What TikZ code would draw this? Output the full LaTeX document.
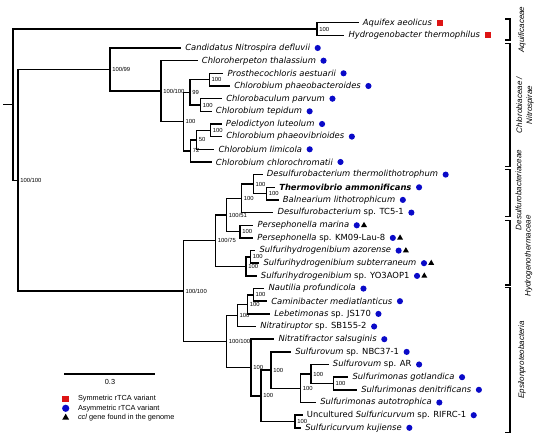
\documentclass[tikz,border=0pt]{standalone}
\usepackage{fontspec}
\setsansfont{DejaVu Sans}
\newfontfamily\arialfont{Liberation Sans}
\usetikzlibrary{positioning}
\usetikzlibrary{shapes.geometric}
\definecolor{symred}{RGB}{221,20,20}
\definecolor{asymblue}{RGB}{10,10,200}

\tikzset{
  branch/.style={line width=1.1pt},
  bracket/.style={line width=0.8pt},
  taxon/.style={anchor=west, inner xsep=3pt, inner ysep=1pt, font=\sffamily\itshape\fontsize{6.3}{7}\selectfont},
  boot/.style={anchor=west, inner xsep=1.5pt, inner ysep=0.5pt, font=\arialfont\fontsize{4.4}{5}\selectfont},
  clade/.style={rotate=90, align=center, font=\arialfont\itshape\fontsize{6}{7.5}\selectfont},
  legtext/.style={anchor=west, inner sep=1pt, font=\arialfont\fontsize{5.5}{6.5}\selectfont},
  symm/.style={rectangle, fill=symred, inner sep=0pt, minimum size=4.5pt},
  asymm/.style={circle, fill=asymblue, inner sep=0pt, minimum size=4.6pt},
  cclgene/.style={regular polygon, regular polygon sides=3, fill=black, inner sep=0pt, minimum size=5.2pt},
}

\begin{document}
\begin{tikzpicture}[x=0.75pt,y=0.75pt,yscale=-1,xscale=1]
\useasboundingbox (0,0) rectangle (538,441);

%Internal nodes of the tree
\coordinate (stub) at (3,104.7);
\coordinate (root) at (13,104.7);
\coordinate (aqf) at (317,29.05);
\coordinate (nb) at (18,180.35);
\coordinate (cn) at (110,69.6);
\coordinate (cc) at (161,91.15);
\coordinate (cd) at (183.3,121.6);
\coordinate (n99) at (190,92.3);
\coordinate (pro) at (209.3,79.65);
\coordinate (cba) at (200.7,105);
\coordinate (n72) at (190.7,150.9);
\coordinate (n50) at (196.7,139.8);
\coordinate (pel) at (210.7,130.3);
\coordinate (dh) at (183.3,291.1);
\coordinate (n75) at (215.7,240.7);
\coordinate (n51) at (226.7,215);
\coordinate (dtc) at (241.7,198.35);
\coordinate (dth) at (253.3,184.1);
\coordinate (thb) at (266.7,193.6);
\coordinate (per) at (240,231.6);
\coordinate (syo) at (246,266.4);
\coordinate (saz) at (250.7,256.9);
\coordinate (eps) at (226.7,341.5);
\coordinate (nir) at (237.3,315.45);
\coordinate (leb) at (247.7,304.4);
\coordinate (nau) at (253.3,294.9);
\coordinate (sfr) at (251,367.5);
\coordinate (shh) at (261,395.8);
\coordinate (snb) at (271,370.1);
\coordinate (sau) at (300.7,388.25);
\coordinate (sar) at (311,374);
\coordinate (slg) at (333.3,383.5);
\coordinate (scv) at (295,421.5);

%Taxa
\node[taxon] (t-aae) at (358.7,22.7) {Aquifex aeolicus};
\node[taxon] (t-hth) at (344.3,35.4) {Hydrogenobacter thermophilus};
\node[taxon] (t-nde) at (181,48.0) {Candidatus Nitrospira defluvii};
\node[taxon] (t-cth) at (197.7,60.7) {Chloroherpeton thalassium};
\node[taxon] (t-pae) at (223.3,73.3) {Prosthecochloris aestuarii};
\node[taxon] (t-cpb) at (230,86.0) {Chlorobium phaeobacteroides};
\node[taxon] (t-cpa) at (222,98.7) {Chlorobaculum parvum};
\node[taxon] (t-cte) at (211.7,111.3) {Chlorobium tepidum};
\node[taxon] (t-plu) at (221.7,124.0) {Pelodictyon luteolum};
\node[taxon] (t-cpv) at (222,136.6) {Chlorobium phaeovibrioides};
\node[taxon] (t-cli) at (214.3,149.3) {Chlorobium limicola};
\node[taxon] (t-cch) at (211.7,162.0) {Chlorobium chlorochromatii};
\node[taxon] (t-dth) at (262.7,174.6) {Desulfurobacterium thermolithotrophum};
\node[taxon] (t-tam) at (275,187.3) {\bfseries Thermovibrio ammonificans};
\node[taxon] (t-bli) at (278.7,199.9) {Balnearium lithotrophicum};
\node[taxon] (t-dtc) at (273.3,212.6) {Desulfurobacterium {\upshape sp. TC5-1}};
\node[taxon] (t-pma) at (253.3,225.3) {Persephonella marina};
\node[taxon] (t-pkm) at (253,237.9) {Persephonella {\upshape sp. KM09-Lau-8}};
\node[taxon] (t-saz) at (255.3,250.6) {Sulfurihydrogenibium azorense};
\node[taxon] (t-ssu) at (259.3,263.2) {Sulfurihydrogenibium subterraneum};
\node[taxon] (t-syo) at (256.7,275.9) {Sulfurihydrogenibium {\upshape sp. YO3AOP1}};
\node[taxon] (t-npr) at (264.3,288.6) {Nautilia profundicola};
\node[taxon] (t-cme) at (267,301.2) {Caminibacter mediatlanticus};
\node[taxon] (t-lje) at (270,313.9) {Lebetimonas {\upshape sp. JS170}};
\node[taxon] (t-nsb) at (256,326.5) {Nitratiruptor {\upshape sp. SB155-2}};
\node[taxon] (t-nsa) at (274.3,339.2) {Nitratifractor salsuginis};
\node[taxon] (t-snb) at (291,351.9) {Sulfurovum {\upshape sp. NBC37-1}};
\node[taxon] (t-sar) at (328.7,364.5) {Sulfurovum {\upshape sp. AR}};
\node[taxon] (t-sgo) at (348.3,377.2) {Sulfurimonas gotlandica};
\node[taxon] (t-sde) at (357,389.8) {Sulfurimonas denitrificans};
\node[taxon] (t-sau) at (316,402.5) {Sulfurimonas autotrophica};
\node[taxon] (t-urf) at (302.7,415.2) {{\upshape Uncultured} Sulfuricurvum {\upshape sp. RIFRC-1}};
\node[taxon] (t-sku) at (301,427.8) {Sulfuricurvum kujiense};

%Branches
\draw[branch] (stub) -- (root);
\draw[branch] (root) |- (aqf);
\draw[branch] (root) |- (nb);
\draw[branch] (aqf) |- (t-aae.west);
\draw[branch] (aqf) |- (t-hth.west);
\draw[branch] (nb) |- (cn);
\draw[branch] (nb) |- (dh);
% Chlorobi / Nitrospira
\draw[branch] (cn) |- (t-nde.west);
\draw[branch] (cn) |- (cc);
\draw[branch] (cc) |- (t-cth.west);
\draw[branch] (cc) |- (cd);
\draw[branch] (cd) |- (n99);
\draw[branch] (cd) |- (n72);
\draw[branch] (n99) |- (pro);
\draw[branch] (n99) |- (cba);
\draw[branch] (pro) |- (t-pae.west);
\draw[branch] (pro) |- (t-cpb.west);
\draw[branch] (cba) |- (t-cpa.west);
\draw[branch] (cba) |- (t-cte.west);
\draw[branch] (n72) |- (n50);
\draw[branch] (n72) |- (t-cch.west);
\draw[branch] (n50) |- (pel);
\draw[branch] (n50) |- (t-cli.west);
\draw[branch] (pel) |- (t-plu.west);
\draw[branch] (pel) |- (t-cpv.west);
% Desulfurobacteriaceae / Hydrogenothermaceae
\draw[branch] (dh) |- (n75);
\draw[branch] (dh) |- (eps);
\draw[branch] (n75) |- (n51);
\draw[branch] (n75) |- (syo);
\draw[branch] (n51) |- (dtc);
\draw[branch] (n51) |- (per);
\draw[branch] (dtc) |- (dth);
\draw[branch] (dtc) |- (t-dtc.west);
\draw[branch] (dth) |- (t-dth.west);
\draw[branch] (dth) |- (thb);
\draw[branch] (thb) |- (t-tam.west);
\draw[branch] (thb) |- (t-bli.west);
\draw[branch] (per) |- (t-pma.west);
\draw[branch] (per) |- (t-pkm.west);
\draw[branch] (syo) |- (saz);
\draw[branch] (syo) |- (t-syo.west);
\draw[branch] (saz) |- (t-saz.west);
\draw[branch] (saz) |- (t-ssu.west);
% Epsilonproteobacteria
\draw[branch] (eps) |- (nir);
\draw[branch] (eps) |- (sfr);
\draw[branch] (nir) |- (leb);
\draw[branch] (nir) |- (t-nsb.west);
\draw[branch] (leb) |- (nau);
\draw[branch] (leb) |- (t-lje.west);
\draw[branch] (nau) |- (t-npr.west);
\draw[branch] (nau) |- (t-cme.west);
\draw[branch] (sfr) |- (t-nsa.west);
\draw[branch] (sfr) |- (shh);
\draw[branch] (shh) |- (snb);
\draw[branch] (shh) |- (scv);
\draw[branch] (snb) |- (t-snb.west);
\draw[branch] (snb) |- (sau);
\draw[branch] (sau) |- (sar);
\draw[branch] (sau) |- (t-sau.west);
\draw[branch] (sar) |- (t-sar.west);
\draw[branch] (sar) |- (slg);
\draw[branch] (slg) |- (t-sgo.west);
\draw[branch] (slg) |- (t-sde.west);
\draw[branch] (scv) |- (t-urf.west);
\draw[branch] (scv) |- (t-sku.west);

%Support values
\node[boot] (b-aqf) at (aqf) {100};
\node[boot] (b-nb) at (nb) {100/100};
\node[boot] (b-cn) at (cn) {100/99};
\node[boot] (b-cc) at (cc) {100/100};
\node[boot] (b-cd) at (cd) {100};
\node[boot] (b-n99) at (n99) {99};
\node[boot] (b-pro) at (pro) {100};
\node[boot] (b-cba) at (cba) {100};
\node[boot] (b-n72) at (n72) {72};
\node[boot] (b-n50) at (n50) {50};
\node[boot] (b-pel) at (pel) {100};
\node[boot] (b-dh) at (dh) {100/100};
\node[boot] (b-n75) at (n75) {100/75};
\node[boot] (b-n51) at (n51) {100/51};
\node[boot] (b-dtc) at (dtc) {100};
\node[boot] (b-dth) at (dth) {100};
\node[boot] (b-thb) at (thb) {100};
\node[boot] (b-per) at (per) {100};
\node[boot] (b-syo) at (syo) {100};
\node[boot] (b-saz) at (saz) {100};
\node[boot] (b-eps) at (eps) {100/100};
\node[boot] (b-nir) at (nir) {100};
\node[boot] (b-leb) at (leb) {100};
\node[boot] (b-nau) at (nau) {100};
\node[boot] (b-sfr) at (sfr) {100};
\node[boot] (b-shh) at (shh) {100};
\node[boot] (b-snb) at (snb) {100};
\node[boot] (b-sau) at (sau) {100};
\node[boot] (b-sar) at (sar) {100};
\node[boot] (b-slg) at (slg) {100};
\node[boot] (b-scv) at (scv) {100};

%rTCA markers
\node[symm, right=0.6pt of t-aae] (m-aae) {};
\node[symm, right=0.6pt of t-hth] (m-hth) {};
\node[asymm, right=0pt of t-nde] (m-nde) {};
\node[asymm, right=0pt of t-cth] (m-cth) {};
\node[asymm, right=0pt of t-pae] (m-pae) {};
\node[asymm, right=0pt of t-cpb] (m-cpb) {};
\node[asymm, right=0pt of t-cpa] (m-cpa) {};
\node[asymm, right=0pt of t-cte] (m-cte) {};
\node[asymm, right=0pt of t-plu] (m-plu) {};
\node[asymm, right=0pt of t-cpv] (m-cpv) {};
\node[asymm, right=0pt of t-cli] (m-cli) {};
\node[asymm, right=0pt of t-cch] (m-cch) {};
\node[asymm, right=0pt of t-dth] (m-dth) {};
\node[asymm, right=0pt of t-tam] (m-tam) {};
\node[asymm, right=0pt of t-bli] (m-bli) {};
\node[asymm, right=0pt of t-dtc] (m-dtc) {};
\node[asymm, right=0pt of t-pma] (m-pma) {};
\node[asymm, right=0pt of t-pkm] (m-pkm) {};
\node[asymm, right=0pt of t-saz] (m-saz) {};
\node[asymm, right=0pt of t-ssu] (m-ssu) {};
\node[asymm, right=0pt of t-syo] (m-syo) {};
\node[asymm, right=0pt of t-npr] (m-npr) {};
\node[asymm, right=0pt of t-cme] (m-cme) {};
\node[asymm, right=0pt of t-lje] (m-lje) {};
\node[asymm, right=0pt of t-nsb] (m-nsb) {};
\node[asymm, right=0pt of t-nsa] (m-nsa) {};
\node[asymm, right=0pt of t-snb] (m-snb) {};
\node[asymm, right=0pt of t-sar] (m-sar) {};
\node[asymm, right=0pt of t-sgo] (m-sgo) {};
\node[asymm, right=0pt of t-sde] (m-sde) {};
\node[asymm, right=0pt of t-sau] (m-sau) {};
\node[asymm, right=0pt of t-urf] (m-urf) {};
\node[asymm, right=0pt of t-sku] (m-sku) {};
%ccl gene
\node[cclgene, right=1.2pt of m-pma] (g-pma) {};
\node[cclgene, right=1.2pt of m-pkm] (g-pkm) {};
\node[cclgene, right=1.2pt of m-saz] (g-saz) {};
\node[cclgene, right=1.2pt of m-ssu] (g-ssu) {};
\node[cclgene, right=1.2pt of m-syo] (g-syo) {};

%Clade brackets
\draw[bracket] (505,19) -- (510,19) -- (510,40) -- (505,40);
\draw[bracket] (505,43.5) -- (510,43.5) -- (510,166.5) -- (505,166.5);
\draw[bracket] (505,169.5) -- (510,169.5) -- (510,216.5) -- (505,216.5);
\draw[bracket] (505,220.5) -- (510,220.5) -- (510,285) -- (505,285);
\draw[bracket] (505,287.5) -- (510,287.5) -- (510,432.5) -- (505,432.5);
\node[clade] (c-aqu) at (522,29.5) {Aquificaceae};
\node[clade] (c-chl) at (525,105) {Chlorobiaceae /\\Nitrospirae};
\node[clade] (c-des) at (518.5,190) {Desulfurobacteriaceae};
\node[clade] (c-hyd) at (528.5,256) {Hydrogenothermaceae};
\node[clade] (c-eps) at (522,360) {Epsilonproteobacteria};

%Scale bar
\coordinate (sb-a) at (64.3,374);
\coordinate (sb-b) at (155,374);
\draw[branch] (sb-a) -- (sb-b);
\node[legtext, anchor=center] (sb-t) at (110,381.5) {0.3};

%Legend
\node[symm, minimum size=5pt] (l-sym) at (65.7,399) {};
\node[asymm, minimum size=5.4pt] (l-asym) at (65.7,408.3) {};
\node[cclgene, minimum size=6pt] (l-ccl) at (65.7,417.7) {};
\node[legtext] (l-symt) at (76.4,399) {Symmetric rTCA variant};
\node[legtext] (l-asymt) at (76.4,408.3) {Asymmetric rTCA variant};
\node[legtext] (l-cclt) at (76.4,417.7) {\textit{ccl} gene found in the genome};

\end{tikzpicture}
\end{document}
